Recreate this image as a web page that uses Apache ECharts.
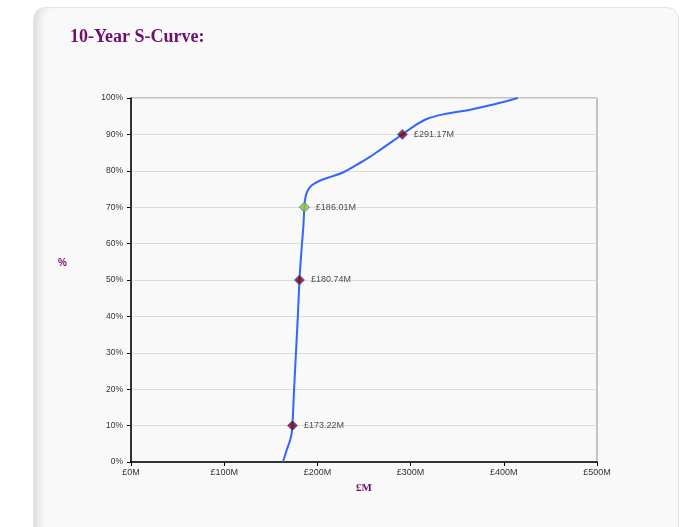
<!DOCTYPE html>
<html>
<head>
<meta charset="utf-8">
<script src="https://cdn.jsdelivr.net/npm/echarts@6/dist/echarts.min.js"></script>
<style>
html,body{margin:0;padding:0;background:#fff;width:684px;height:527px;overflow:hidden;}
#card{position:absolute;left:33px;top:7px;width:644px;height:600px;border:1px solid #e4e4e4;border-radius:12px;background:#f9f9f9;box-shadow:inset 10px 0 8px -6px #d8d8d8;}
#chart{position:absolute;left:0;top:0;width:684px;height:527px;}
</style>
</head>
<body>
<div id="card"></div>
<div id="chart"></div>
<script>
// S-curve: cost (£M) vs cumulative probability (%)
const curveCost = [163,165.5,168,170.5,172.3,173.22,175,177,179,180.74,182,183.5,185,186.01,187,189.5,194,202,215,228,242,255,267,280,291.17,305,318,335,364,390,415];
const curvePct  = [0,2,4,5.8,7.8,10,20,30,40,50,55,60,65,70,72.5,74.5,76,77.2,78.4,79.6,81.6,83.6,85.7,88,90,92.5,94.3,95.5,96.8,98.3,100];
const markerCost = [173.22,180.74,186.01,291.17];
const markerPct  = [10,50,70,90];
const markerColors = ['#7f0000','#7f0000','#99cc00','#7f0000'];
const xTicks = [0,100,200,300,400,500];
const yTicks = [0,10,20,30,40,50,60,70,80,90,100];

const chart = echarts.init(document.getElementById('chart'));
const purple = '#6d0f6d';
chart.setOption({
  backgroundColor: 'transparent',
  animation: false,
  title: {
    text: '10-Year S-Curve:',
    left: 65, top: 23,
    textStyle: {fontFamily: 'Liberation Serif', fontWeight: 'bold', fontSize: 18, color: purple}
  },
  graphic: [{
    type: 'text', left: 58, top: 258,
    style: {text: '%', fill: purple, font: 'bold 10px "Liberation Sans"'}
  }],
  grid: {left: 131, right: 87, top: 98, bottom: 65, show: true, borderColor: '#8c8c8c', borderWidth: 1, backgroundColor: 'transparent'},
  xAxis: {
    type: 'value', min: xTicks[0], max: xTicks[xTicks.length-1], interval: 100,
    name: '£M', nameLocation: 'middle', nameGap: 21,
    nameTextStyle: {color: purple, fontWeight: 'bold', fontSize: 11, fontFamily: 'Liberation Serif'},
    axisLine: {show: true, lineStyle: {color: '#000', width: 1.5}},
    axisTick: {show: true, length: 4, lineStyle: {color: '#000'}},
    splitLine: {show: false},
    axisLabel: {formatter: v => '£' + v + 'M', fontSize: 9, color: '#333', fontFamily: 'Liberation Sans', margin: 6}
  },
  yAxis: {
    type: 'value', min: yTicks[0], max: yTicks[yTicks.length-1], interval: 10,
    axisLine: {show: true, lineStyle: {color: '#000', width: 1.5}},
    axisTick: {show: true, length: 4, lineStyle: {color: '#000'}},
    splitLine: {show: true, lineStyle: {color: '#dcdcdc', width: 1}},
    axisLabel: {formatter: v => v + '%', fontSize: 8.5, color: '#333', fontFamily: 'Liberation Sans', margin: 8}
  },
  series: [
    {
      type: 'line', smooth: 0.35, showSymbol: false,
      data: curveCost.map((c, i) => [c, curvePct[i]]),
      lineStyle: {color: '#3366ff', width: 2}, z: 2
    },
    {
      type: 'scatter', symbol: 'diamond', symbolSize: 10,
      data: markerCost.map((c, i) => ({value: [c, markerPct[i]], itemStyle: {color: markerColors[i]}})),
      itemStyle: {borderColor: '#3366ff', borderWidth: 1},
      label: {show: true, position: 'right', distance: 6, formatter: p => '£' + p.value[0].toFixed(2) + 'M', fontSize: 9, color: '#222', fontFamily: 'Liberation Sans'},
      z: 3
    }
  ]
});
</script>
</body>
</html>
